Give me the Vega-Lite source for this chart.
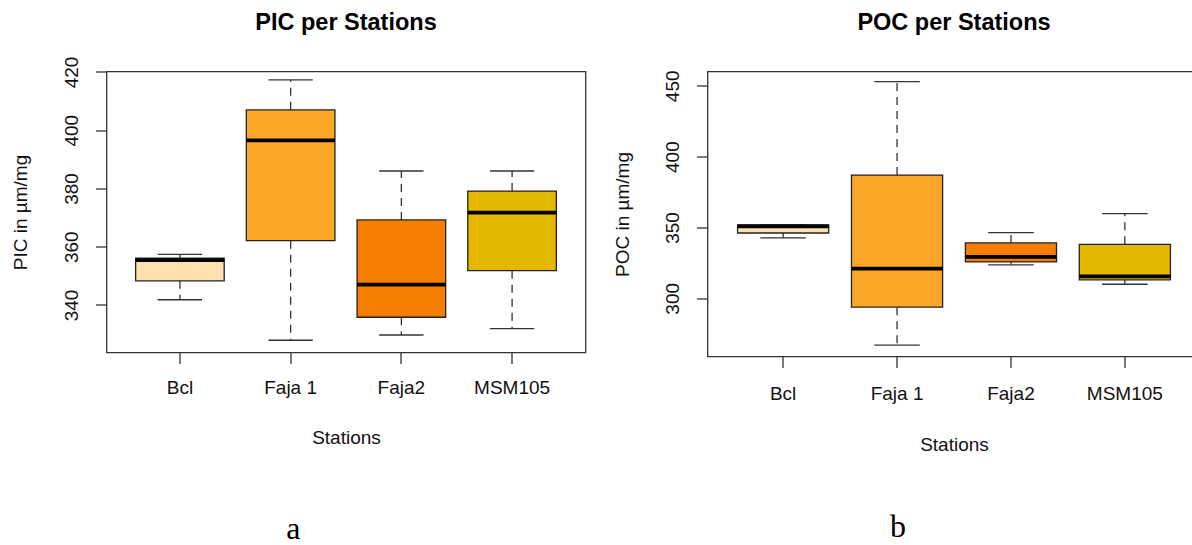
{
  "$schema": "https://vega.github.io/schema/vega-lite/v6.json",
  "background": "white",
  "padding": {"left": 9.5, "top": 9.5, "right": 0, "bottom": 0},
  "config": {
    "font": "Liberation Sans",
    "view": {"stroke": "#333333", "strokeWidth": 1.3},
    "axis": {
      "labelFont": "Liberation Sans", "titleFont": "Liberation Sans",
      "labelFontSize": 19, "titleFontSize": 19,
      "labelColor": "#111111", "titleColor": "#111111",
      "titleFontWeight": "normal", "grid": false, "domain": false,
      "tickColor": "#333333", "tickSize": 11, "tickWidth": 1.3
    },
    "concat": {"spacing": 26}
  },
  "datasets": {
    "pic": [
      {"station": "Bcl", "lower": 341.8, "q1": 348.3, "median": 355.4, "q3": 356.1, "upper": 357.4},
      {"station": "Faja 1", "lower": 327.9, "q1": 362.1, "median": 396.5, "q3": 407.0, "upper": 417.3},
      {"station": "Faja2", "lower": 329.7, "q1": 335.8, "median": 347.0, "q3": 369.2, "upper": 386.0},
      {"station": "MSM105", "lower": 331.9, "q1": 351.8, "median": 371.7, "q3": 379.1, "upper": 386.0}
    ],
    "poc": [
      {"station": "Bcl", "lower": 342.6, "q1": 346.1, "median": 350.7, "q3": 351.8, "upper": 351.8},
      {"station": "Faja 1", "lower": 266.9, "q1": 293.7, "median": 320.9, "q3": 387.0, "upper": 453.0},
      {"station": "Faja2", "lower": 323.6, "q1": 325.7, "median": 329.2, "q3": 339.1, "upper": 346.3},
      {"station": "MSM105", "lower": 309.9, "q1": 313.0, "median": 315.5, "q3": 338.1, "upper": 359.7}
    ]
  },
  "hconcat": [
    {
      "title": {"text": "a", "orient": "bottom", "font": "Liberation Serif", "fontSize": 32, "fontWeight": "normal", "color": "#000000", "anchor": "middle", "frame": "bounds", "offset": 91, "baseline": "alphabetic", "dx": -5},
      "vconcat": [
        {
          "width": 479, "height": 281,
          "title": {"text": "PIC per Stations", "font": "Liberation Sans", "fontSize": 23.5, "fontWeight": "bold", "color": "#000000", "anchor": "middle", "frame": "group", "offset": 2.7, "baseline": "alphabetic"},
          "data": {"name": "pic"},
          "encoding": {
            "x": {"field": "station", "type": "nominal", "sort": ["Bcl", "Faja 1", "Faja2", "MSM105"],
              "scale": {"paddingInner": 0.2, "paddingOuter": 0.263},
              "axis": {"title": "Stations", "labelAngle": 0, "labelPadding": 15, "minExtent": 47, "maxExtent": 47, "titlePadding": 29}}
          },
          "layer": [
            {"mark": {"type": "rule", "strokeDash": [8, 6], "color": "#333333", "strokeWidth": 1.3},
             "encoding": {
               "y": {"field": "q1", "type": "quantitative",
                 "scale": {"domain": [323.69, 420.17], "nice": false, "zero": false},
                 "axis": {"title": "PIC in µm/mg", "values": [340, 360, 380, 400, 420], "labelAngle": -90, "labelAlign": "center", "labelBaseline": "bottom", "labelPadding": 14, "minExtent": 44, "maxExtent": 44, "titlePadding": 32.5}},
               "y2": {"field": "lower"}}},
            {"mark": {"type": "rule", "strokeDash": [8, 6], "color": "#333333", "strokeWidth": 1.3},
             "encoding": {"y": {"field": "q3", "type": "quantitative"}, "y2": {"field": "upper"}}},
            {"mark": {"type": "tick", "size": 44.3, "thickness": 1.3, "color": "#333333", "opacity": 1},
             "encoding": {"y": {"field": "lower", "type": "quantitative"}}},
            {"mark": {"type": "tick", "size": 44.3, "thickness": 1.3, "color": "#333333", "opacity": 1},
             "encoding": {"y": {"field": "upper", "type": "quantitative"}}},
            {"mark": {"type": "bar", "stroke": "#222222", "strokeWidth": 1.3, "opacity": 1},
             "encoding": {
               "y": {"field": "q1", "type": "quantitative"}, "y2": {"field": "q3"},
               "color": {"field": "station", "type": "nominal", "legend": null,
                 "scale": {"domain": ["Bcl", "Faja 1", "Faja2", "MSM105"], "range": ["#FFDFB0", "#FCA628", "#F57D00", "#E5B800"]}}}},
            {"mark": {"type": "tick", "size": 88.6, "thickness": 3.8, "color": "#000000", "opacity": 1},
             "encoding": {"y": {"field": "median", "type": "quantitative"}}}
          ]
        }
      ]
    },
    {
      "title": {"text": "b", "orient": "bottom", "font": "Liberation Serif", "fontSize": 32, "fontWeight": "normal", "color": "#000000", "anchor": "middle", "frame": "bounds", "offset": 81.5, "baseline": "alphabetic", "dx": -9},
      "vconcat": [
        {
          "width": 493, "height": 285,
          "title": {"text": "POC per Stations", "font": "Liberation Sans", "fontSize": 23.5, "fontWeight": "bold", "color": "#000000", "anchor": "middle", "frame": "group", "offset": 16.1, "baseline": "alphabetic"},
          "data": {"name": "poc"},
          "encoding": {
            "x": {"field": "station", "type": "nominal", "sort": ["Bcl", "Faja 1", "Faja2", "MSM105"],
              "scale": {"paddingInner": 0.2, "paddingOuter": 0.264},
              "axis": {"title": "Stations", "labelAngle": 0, "labelPadding": 17, "minExtent": 49.7, "maxExtent": 49.7, "titlePadding": 29.4}}
          },
          "layer": [
            {"mark": {"type": "rule", "strokeDash": [8, 6], "color": "#333333", "strokeWidth": 1.3},
             "encoding": {
               "y": {"field": "q1", "type": "quantitative",
                 "scale": {"domain": [258.9, 460.1], "nice": false, "zero": false},
                 "axis": {"title": "POC in µm/mg", "values": [300, 350, 400, 450], "labelAngle": -90, "labelAlign": "center", "labelBaseline": "bottom", "labelPadding": 14, "minExtent": 44, "maxExtent": 44, "titlePadding": 31}},
               "y2": {"field": "lower"}}},
            {"mark": {"type": "rule", "strokeDash": [8, 6], "color": "#333333", "strokeWidth": 1.3},
             "encoding": {"y": {"field": "q3", "type": "quantitative"}, "y2": {"field": "upper"}}},
            {"mark": {"type": "tick", "size": 45.6, "thickness": 1.3, "color": "#333333", "opacity": 1},
             "encoding": {"y": {"field": "lower", "type": "quantitative"}}},
            {"mark": {"type": "tick", "size": 45.6, "thickness": 1.3, "color": "#333333", "opacity": 1},
             "encoding": {"y": {"field": "upper", "type": "quantitative"}}},
            {"mark": {"type": "bar", "stroke": "#222222", "strokeWidth": 1.3, "opacity": 1},
             "encoding": {
               "y": {"field": "q1", "type": "quantitative"}, "y2": {"field": "q3"},
               "color": {"field": "station", "type": "nominal", "legend": null,
                 "scale": {"domain": ["Bcl", "Faja 1", "Faja2", "MSM105"], "range": ["#FFDFB0", "#FCA628", "#F57D00", "#E5B800"]}}}},
            {"mark": {"type": "tick", "size": 91.1, "thickness": 3.8, "color": "#000000", "opacity": 1},
             "encoding": {"y": {"field": "median", "type": "quantitative"}}}
          ]
        }
      ]
    }
  ]
}
